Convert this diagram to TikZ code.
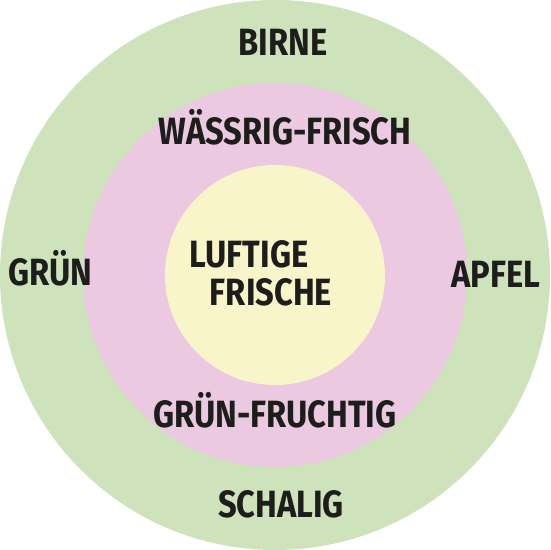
\documentclass[tikz,border=0pt]{standalone}
\usepackage{fontspec}
\setmainfont[FakeStretch=0.86]{Fira Sans}
\definecolor{ringgreen}{HTML}{CEE3BC}
\definecolor{ringpink}{HTML}{EAC9E1}
\definecolor{ringyellow}{HTML}{F8F5CB}
\definecolor{txt}{HTML}{1D1D1B}
\begin{document}
\begin{tikzpicture}[x=1pt,y=1pt,
  lbl/.style={font=\fontsize{38}{40}\selectfont\bfseries, text=txt, inner sep=0pt, anchor=base}]
\useasboundingbox (0,0) rectangle (550,550);
\fill[ringgreen] (275,275) circle (275);
\fill[ringpink] (275,275) circle (192);
\fill[ringyellow] (275,275) circle (110);
\node[lbl] (birne) at (283,494) {BIRNE};
\node[lbl] (wass) at (285,405) {WÄSSRIG-FRISCH};
\node[lbl] (gruen) at (50,264) {GRÜN};
\node[lbl] (apfel) at (496,262) {APFEL};
\node[lbl] (luft) at (249,282) {LUFTIGE};
\node[lbl] (frische) at (271,244) {FRISCHE};
\node[lbl] (gf) at (275,122) {GRÜN-FRUCHTIG};
\node[lbl] (schalig) at (281,32) {SCHALIG};
\end{tikzpicture}
\end{document}
